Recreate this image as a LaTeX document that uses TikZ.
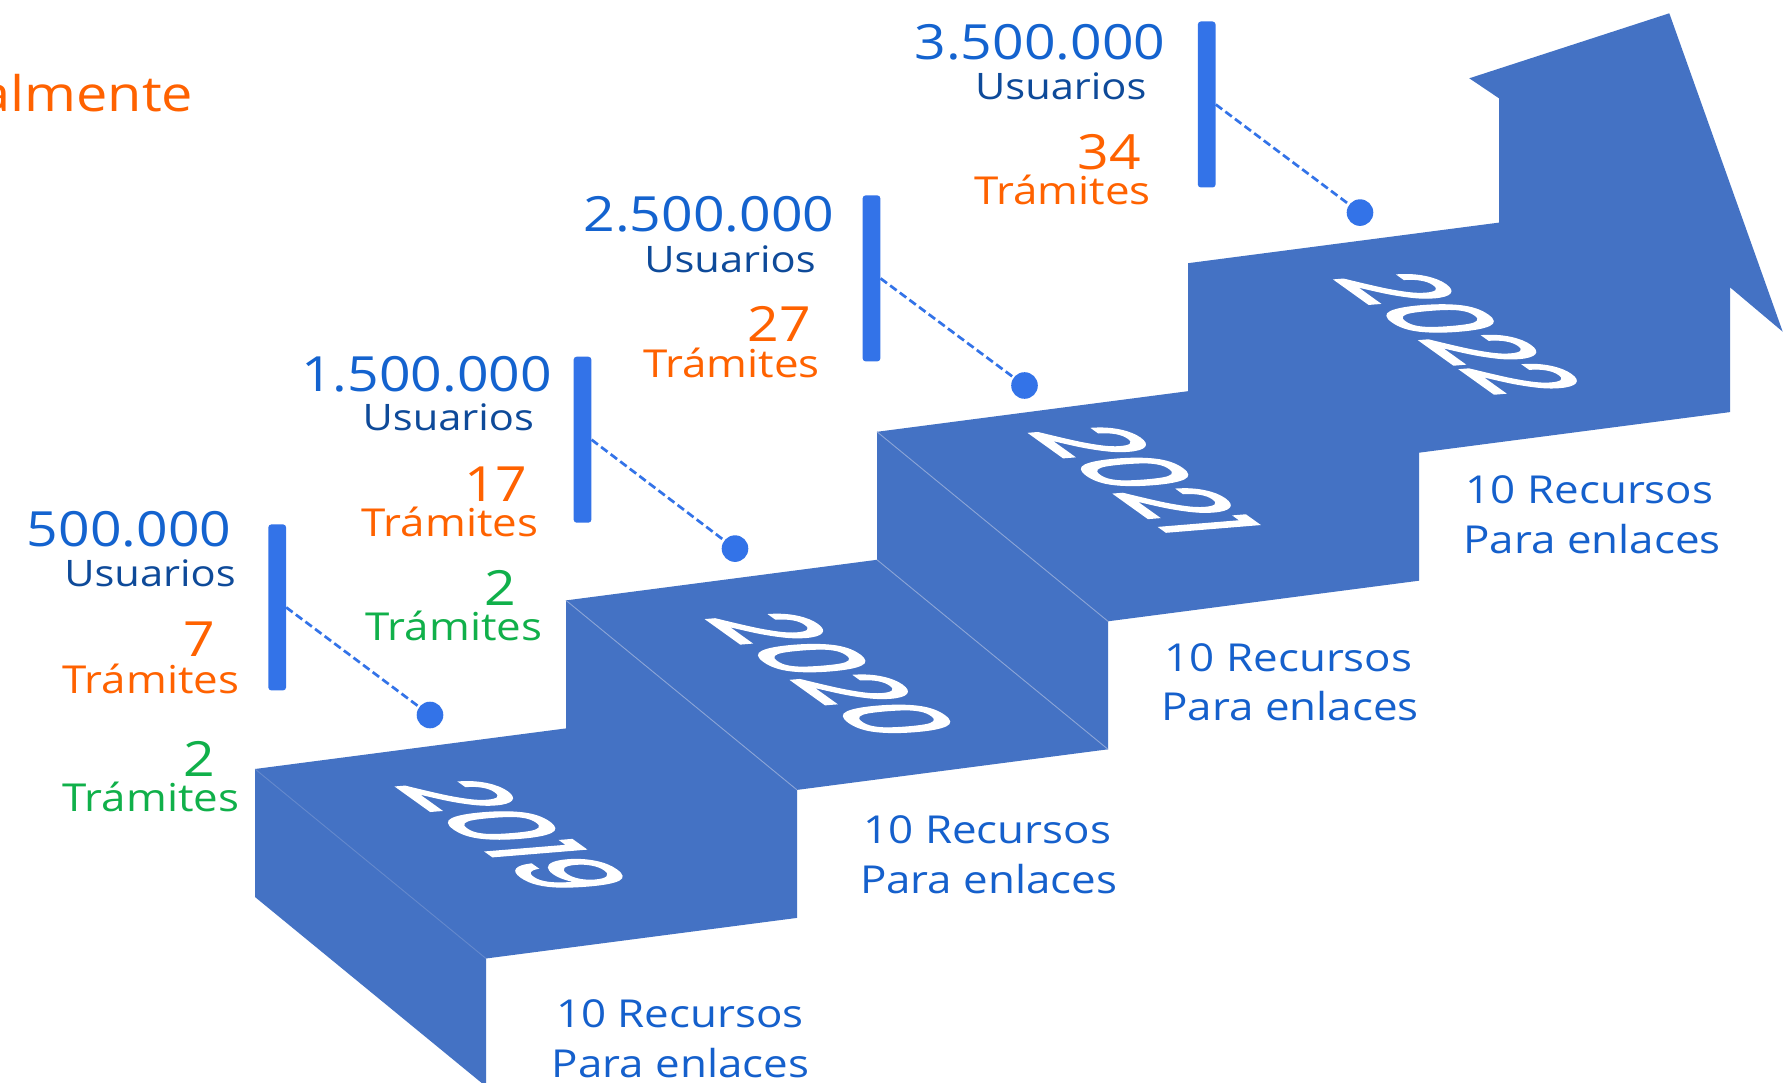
\documentclass[tikz,border=0pt]{standalone}
\usepackage{fontspec}
\newfontfamily\labelfont[FakeStretch=1.14]{Open Sans}
\newfontfamily\yearfont{Poppins}[BoldFont=Poppins, BoldFeatures={FakeBold=2.5}]

\definecolor{stairblue}{RGB}{68,114,196}
\definecolor{foldline}{RGB}{140,165,215}
\definecolor{barblue}{RGB}{51,115,232}
\definecolor{numblue}{RGB}{20,99,207}
\definecolor{usrblue}{RGB}{14,74,153}
\definecolor{tramorange}{RGB}{255,98,0}
\definecolor{tramgreen}{RGB}{16,176,74}
\definecolor{recblue}{RGB}{21,96,204}

\begin{document}
\begin{tikzpicture}[x=1pt,y=-1pt,
  bignum/.style={font=\labelfont\fontsize{48.5}{58}\selectfont, text=numblue, anchor=base, inner sep=0pt},
  usr/.style={font=\labelfont\fontsize{36.5}{44}\selectfont, text=usrblue, anchor=base, inner sep=0pt},
  cnt/.style={font=\labelfont\fontsize{48.5}{58}\selectfont, anchor=base, inner sep=0pt},
  lbl/.style={font=\labelfont\fontsize{38.5}{46}\selectfont, anchor=base, inner sep=0pt},
  rec/.style={font=\labelfont\fontsize{38.5}{46}\selectfont, text=recblue, anchor=base, inner sep=0pt},
  vbar/.style={fill=barblue, rounded corners=3pt, minimum width=17.7pt, minimum height=166pt, inner sep=0pt},
  endpt/.style={circle, fill=barblue, minimum size=26.6pt, inner sep=0pt},
  leader/.style={draw=barblue, line width=2.7pt, dash pattern=on 8pt off 4pt},
  fold/.style={draw=foldline, line width=0.9pt},
  year/.style={font=\yearfont\bfseries\fontsize{10}{12}\selectfont, text=white, inner sep=0pt},
  tread/.style={cm={7.05,-5.05,12.7,1.04,#1}}]

\useasboundingbox (0,0) rectangle (1792,1083);
\fill[white] (0,0) rectangle (1792,1083);
\clip (0,0) rectangle (1792,1083);

% heading fragment
\node[font=\labelfont\fontsize{49}{58}\selectfont, text=tramorange, anchor=base east, inner sep=0pt] (head) at (193.5,112) {almente};

% staircase ribbon ending in an arrow
\fill[stairblue] (255,769) -- (255,897) -- (486,1086.5) -- (486,958.5)
  -- (797,917.9) -- (797,789.9) -- (1108,749.3) -- (1108,621.3)
  -- (1419,580.7) -- (1419,452.7) -- (1730,412.1) -- (1730,287.3)
  -- (1782.7,331.7) -- (1669.3,13.3) -- (1469.3,78.3) -- (1499,98.3)
  -- (1499,222.6) -- (1188,263.2) -- (1188,391.2) -- (877,431.8)
  -- (877,559.8) -- (566,600.4) -- (566,728.4) -- cycle;

% fold seams between faces
\draw[fold, opacity=0.45] (255,769) -- (486,958.5);
\draw[fold] (566,600.4) -- (797,789.9);
\draw[fold] (877,431.8) -- (1108,621.3);
\draw[fold] (877,559.8) -- (1108,749.3);

% years lying on the treads
\begin{scope}[tread={(515,835)}]
  \node[year, transform shape] (y2019) at (0,0) {2019};
\end{scope}
\begin{scope}[tread={(834,674)}]
  \node[year, transform shape] (y2020) at (0,0) {2020};
\end{scope}
\begin{scope}[tread={(1146,480)}]
  \node[year, transform shape] (y2021) at (0,0) {2021};
\end{scope}
\begin{scope}[tread={(1460.5,333)}]
  \node[year, transform shape] (y2022) at (0,0) {2022};
\end{scope}

% 2019 figures
\node[bignum] (n1) at (129,546.7) {500.000};
\node[usr] (u1) at (150,586.7) {Usuarios};
\node[cnt, text=tramorange] (c1) at (199,656.7) {7};
\node[lbl, text=tramorange] (t1) at (151,693.3) {Trámites};
\node[cnt, text=tramgreen] (cg1) at (199,776.7) {2};
\node[lbl, text=tramgreen] (tg1) at (151,811.7) {Trámites};
\node[vbar] (bar1) at (277.2,607.4) {};
\node[endpt] (dot1) at (430,715) {};
\draw[leader] (bar1.east) -- (dot1);

% 2020 figures
\node[bignum] (n2) at (426.7,391.7) {1.500.000};
\node[usr] (u2) at (448.3,430) {Usuarios};
\node[cnt, text=tramorange] (c2) at (495.8,501.7) {17};
\node[lbl, text=tramorange] (t2) at (450,536.7) {Trámites};
\node[cnt, text=tramgreen] (cg2) at (500.5,605) {2};
\node[lbl, text=tramgreen] (tg2) at (454,640) {Trámites};
\node[vbar] (bar2) at (582.5,439.7) {};
\node[endpt] (dot2) at (735,548.6) {};
\draw[leader] (bar2.east) -- (dot2);

% 2021 figures
\node[bignum] (n3) at (709,232) {2.500.000};
\node[usr] (u3) at (730,273) {Usuarios};
\node[cnt, text=tramorange] (c3) at (779.4,342) {27};
\node[lbl, text=tramorange] (t3) at (731.4,377.5) {Trámites};
\node[vbar] (bar3) at (871.5,278.4) {};
\node[endpt] (dot3) at (1024.5,385.5) {};
\draw[leader] (bar3.east) -- (dot3);

% 2022 figures
\node[bignum] (n4) at (1040,60) {3.500.000};
\node[usr] (u4) at (1060.8,100) {Usuarios};
\node[cnt, text=tramorange] (c4) at (1109.2,170) {34};
\node[lbl, text=tramorange] (t4) at (1062.5,205) {Trámites};
\node[vbar] (bar4) at (1206.7,104.5) {};
\node[endpt] (dot4) at (1360,212.6) {};
\draw[leader] (bar4.east) -- (dot4);

% resources under each step
\node[rec] (r1a) at (680,1027.5) {10 Recursos};
\node[rec] (r1b) at (680.6,1077) {Para enlaces};
\node[rec] (r2a) at (987.4,843) {10 Recursos};
\node[rec] (r2b) at (988.6,893.5) {Para enlaces};
\node[rec] (r3a) at (1288.6,671) {10 Recursos};
\node[rec] (r3b) at (1290,720) {Para enlaces};
\node[rec] (r4a) at (1589.6,503.3) {10 Recursos};
\node[rec] (r4b) at (1592,553.3) {Para enlaces};
\end{tikzpicture}
\end{document}
